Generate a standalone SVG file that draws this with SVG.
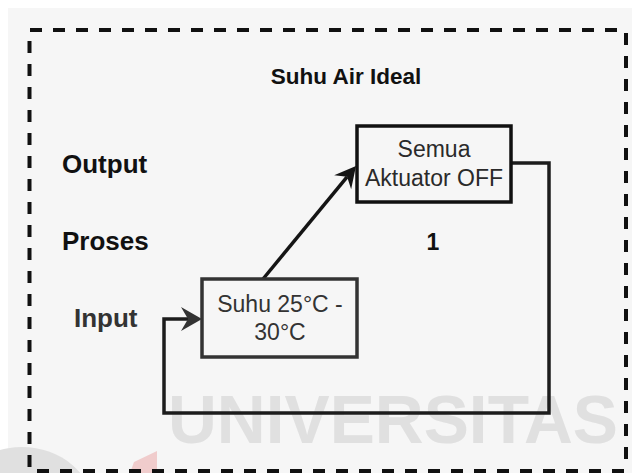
<svg xmlns="http://www.w3.org/2000/svg" width="632" height="473" viewBox="0 0 632 473">
  <style>
    .bd { stroke: #111; stroke-width: 4; stroke-dasharray: 12 11; fill: none; }
    .lbl { font-family: "Liberation Sans", Arial, sans-serif; font-weight: bold; font-size: 26px; fill: #111; }
    .box { fill: #f6f6f6; stroke-width: 3.5; }
    .txt { font-family: "Liberation Sans", Arial, sans-serif; font-size: 23px; fill: #2a2a2a; text-anchor: middle; }
    .edge { fill: none; stroke: #151515; stroke-width: 3.5; }
    .wm { font-family: "Liberation Sans", Arial, sans-serif; font-weight: bold; font-size: 68px; fill: #e0e0e0; }
  </style>
  <defs>
    <marker id="arr" viewBox="-8 -12 24 24" refX="0" refY="0" markerWidth="24" markerHeight="24" markerUnits="userSpaceOnUse" orient="auto">
      <path d="M14,0 L-7,-11 L0,0 L-7,11 Z" fill="#151515"/>
    </marker>
    <marker id="arr2" viewBox="-8 -12 24 24" refX="0" refY="0" markerWidth="24" markerHeight="24" markerUnits="userSpaceOnUse" orient="auto">
      <path d="M14,0 L-7,-12 L0,0 L-7,12 Z" fill="#333"/>
    </marker>
  </defs>

  <rect x="0" y="0" width="632" height="473" fill="#ffffff"/>
  <rect x="8" y="8" width="624" height="465" fill="#f6f6f6"/>

  <!-- watermark -->
  <g id="watermark">
    <text class="wm" x="168" y="443" textLength="450" lengthAdjust="spacingAndGlyphs">UNIVERSITAS</text>
    <ellipse cx="22" cy="510" rx="72" ry="63" fill="#e0e0e0"/>
    <polygon points="130,473 134,462 157,451 157,473" fill="#f0cccc"/>
  </g>

  <!-- dashed frame -->
  <g id="frame">
    <line class="bd" x1="30" y1="30" x2="618" y2="30"/>
    <line class="bd" x1="29.5" y1="41" x2="29.5" y2="470"/>
    <line class="bd" x1="626" y1="33" x2="626" y2="470"/>
    <line class="bd" x1="37" y1="471" x2="632" y2="471"/>
  </g>

  <g id="title"><text class="lbl" x="346" y="84" text-anchor="middle" style="font-size:22.5px">Suhu Air Ideal</text></g>
  <g id="label-output"><text class="lbl" x="62" y="173">Output</text></g>
  <g id="label-proses"><text class="lbl" x="62" y="250">Proses</text></g>
  <g id="label-input"><text class="lbl" x="74" y="327" style="fill:#333">Input</text></g>
  <g id="label-1"><text class="lbl" x="433" y="250" text-anchor="middle" style="font-size:23px">1</text></g>

  <!-- connectors -->
  <g id="connectors">
    <path class="edge" d="M263,279 L347.1,176.8" marker-end="url(#arr)"/>
    <path class="edge" d="M511,163 L549,163 L549,413 L164,413 L164,319 L188,319" style="stroke:#1c1c1c" marker-end="url(#arr2)"/>
  </g>

  <g id="node-output">
    <rect class="box" x="357" y="126" width="154" height="76" stroke="#111"/>
    <text class="txt" x="434" y="157">Semua</text>
    <text class="txt" x="434" y="186">Aktuator OFF</text>
  </g>

  <g id="node-input">
    <rect class="box" x="202" y="279" width="155" height="78" stroke="#333"/>
    <text class="txt" x="280" y="312" style="fill:#333">Suhu 25°C -</text>
    <text class="txt" x="280" y="340" style="fill:#333">30°C</text>
  </g>
</svg>
